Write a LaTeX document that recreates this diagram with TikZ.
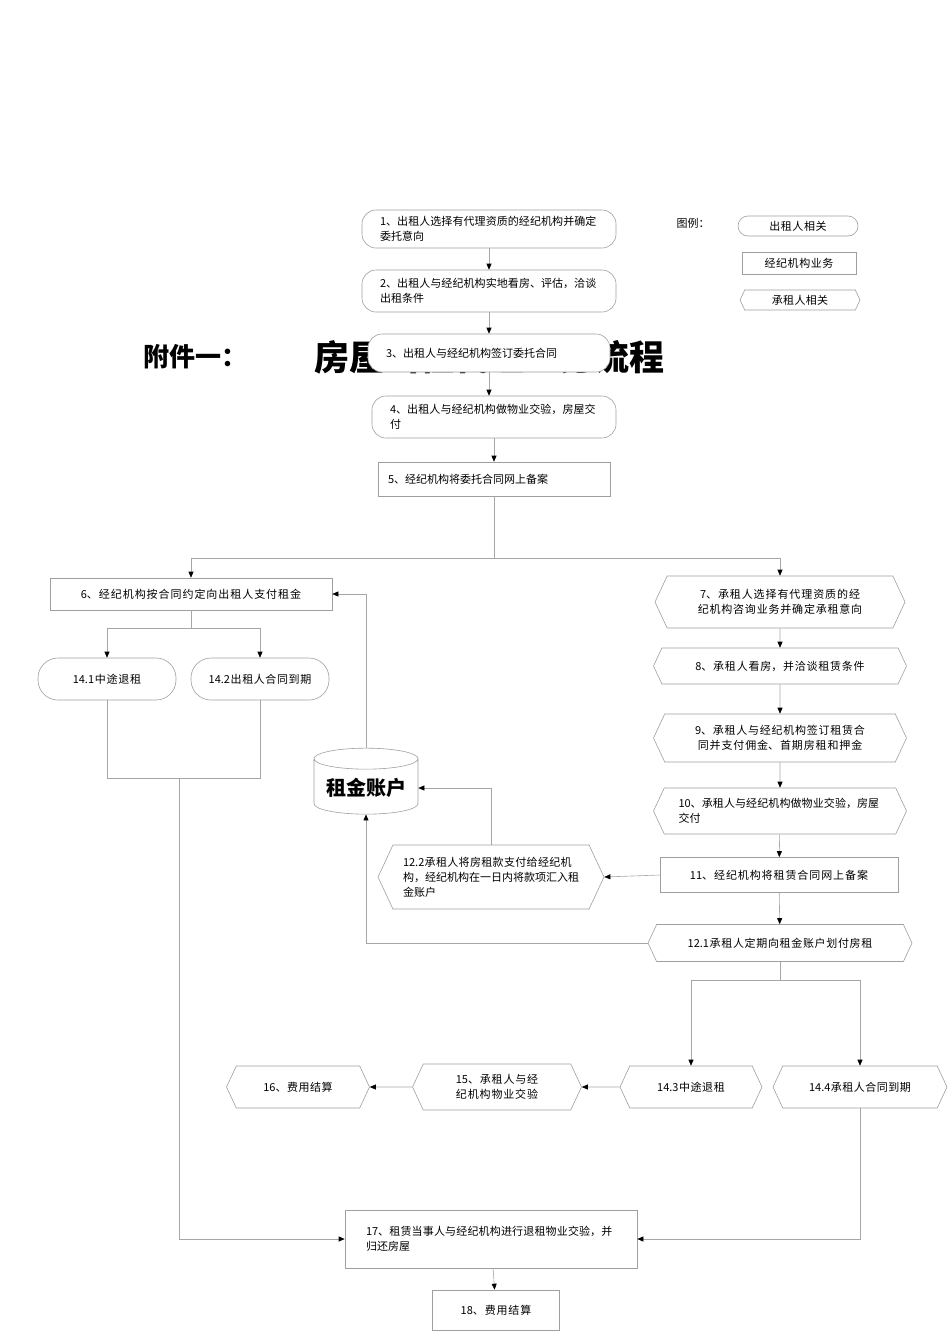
\documentclass[tikz,border=0pt]{standalone}
\usepackage{fontspec}
\setmainfont{Noto Sans CJK SC}
\XeTeXlinebreaklocale "zh"
\XeTeXlinebreakskip=0pt plus 1pt
\usetikzlibrary{shapes.geometric,shapes.symbols,arrows.meta}
\begin{document}
\begin{tikzpicture}[x=1pt,y=-1pt,
  every node/.style={font=\fontsize{11}{15}\selectfont},
  base/.style={draw=gray!75,fill=white,inner sep=2pt,line width=0.6pt},
  lessor/.style={base,rectangle,rounded corners=14pt,minimum width=#1,text width=#1-36pt,align=left},
  agency/.style={base,rectangle,minimum width=#1,text width=#1-20pt,align=left},
  tenant/.style={base,signal,signal to=west and east,signal pointer angle=130,minimum width=#1,text width=#1-50pt,align=center},
  ln/.style={draw=gray!70,line width=0.6pt},
  arr/.style={ln,-{Triangle[length=6pt,width=5pt,fill=black,color=black]}}]
\useasboundingbox (0,0) rectangle (950,1344);
% title
\node[font=\fontsize{26}{30}\selectfont\bfseries] (ta) at (195,357) {附件一：};
\node[font=\fontsize{35}{38}\selectfont\bfseries] (tb) at (489,357) {房屋出租代理业务流程};
% lessor column
\node[lessor=254pt,minimum height=38pt] (n1) at (489,229) {1、出租人选择有代理资质的经纪机构并确定委托意向};
\node[lessor=254pt,minimum height=42pt] (n2) at (489,291) {2、出租人与经纪机构实地看房、评估，洽谈出租条件};
\node[lessor=242pt,minimum height=38pt] (n3) at (489,353) {3、出租人与经纪机构签订委托合同};
\node[lessor=244pt,minimum height=42pt] (n4) at (494,417) {4、出租人与经纪机构做物业交验，房屋交付};
\node[agency=232pt,minimum height=34pt] (n5) at (494,479) {5、经纪机构将委托合同网上备案};
% legend
\node (lg) at (693,223) {图例：};
\node[lessor=120pt,minimum height=20pt,rounded corners=10pt,align=center] (l1) at (798,226) {出租人相关};
\node[agency=114pt,minimum height=22pt,align=center] (l2) at (799,263) {经纪机构业务};
\node[tenant=120pt,minimum height=20pt] (l3) at (800,300) {承租人相关};
% left
\node[agency=282pt,minimum height=32pt,align=center] (n6) at (191,594) {6、经纪机构按合同约定向出租人支付租金};
\node[lessor=138pt,minimum height=42pt,rounded corners=20pt,align=center] (n141) at (107,679) {14.1中途退租};
\node[lessor=138pt,minimum height=42pt,rounded corners=20pt,align=center,text width=130pt] (n142) at (260,679) {14.2出租人合同到期};
\node[base,cylinder,shape border rotate=90,aspect=0.25,minimum width=104pt,minimum height=66pt,font=\fontsize{20}{24}\selectfont\bfseries] (acc) at (366,788) {租金账户};
% right
\node[tenant=250pt,minimum height=52pt] (n7) at (780,602) {7、承租人选择有代理资质的经纪机构咨询业务并确定承租意向};
\node[tenant=253pt,minimum height=36pt] (n8) at (780,666) {8、承租人看房，并洽谈租赁条件};
\node[tenant=253pt,minimum height=48pt] (n9) at (780,738) {9、承租人与经纪机构签订租赁合同并支付佣金、首期房租和押金};
\node[tenant=253pt,minimum height=46pt,align=left] (n10) at (780,811) {10、承租人与经纪机构做物业交验，房屋交付};
\node[agency=238pt,minimum height=35pt,align=center] (n11) at (779,875) {11、经纪机构将租赁合同网上备案};
\node[tenant=264pt,minimum height=37pt] (n121) at (780,943) {12.1承租人定期向租金账户划付房租};
\node[tenant=226pt,minimum height=64pt,align=left] (n122) at (491,877) {12.2承租人将房租款支付给经纪机构，经纪机构在一日内将款项汇入租金账户};
\node[tenant=142pt,minimum height=42pt] (n143) at (691,1087) {14.3中途退租};
\node[tenant=174pt,minimum height=42pt] (n144) at (860,1087) {14.4承租人合同到期};
\node[tenant=169pt,minimum height=46pt] (n15) at (497,1087) {15、承租人与经纪机构物业交验};
\node[tenant=143pt,minimum height=42pt] (n16) at (298,1087) {16、费用结算};
\node[agency=292pt,minimum height=58pt,text width=250pt] (n17) at (491,1239) {17、租赁当事人与经纪机构进行退租物业交验，并归还房屋};
\node[agency=127pt,minimum height=40pt,align=center] (n18) at (496,1310) {18、费用结算};
% connectors
\draw[arr] (n1) -- (n2);
\draw[arr] (n2) -- (n3);
\draw[arr] (n3) -- (n4.north -| n3);
\draw[arr] (n4.south -| n5) -- (n5);
\coordinate (j5) at (494,558);
\draw[ln] (n5) -- (j5);
\draw[arr] (j5) -| (n6.north);
\draw[arr] (j5) -| (n7.north);
\coordinate (j6) at (191,628);
\draw[ln] (n6) -- (j6);
\draw[arr] (j6) -| (n141.north);
\draw[arr] (j6) -| (n142.north);
\coordinate (j14) at (179,778);
\draw[ln] (n141.south) |- (j14) -| (n142.south);
\draw[arr] (j14) |- (n17.west);
\draw[arr] (acc.north) |- (n6.east);
\draw[arr] (n7) -- (n8);
\draw[arr] (n8) -- (n9);
\draw[arr] (n9) -- (n10);
\draw[arr] (n10) -- (n11);
\draw[arr] (n11) -- (n121);
\draw[arr] (n11.west) -- (n122.east);
\draw[arr] (n122.north) |- (acc.east);
\draw[arr] (n121.west) -| (acc.south);
\coordinate (j12) at (780,980);
\draw[ln] (n121) -- (j12);
\draw[arr] (j12) -| (n143.north);
\draw[arr] (j12) -| (n144.north);
\draw[arr] (n143) -- (n15);
\draw[arr] (n15) -- (n16);
\draw[arr] (n144.south) |- (n17.east);
\draw[arr] (n17) -- (n18);
\end{tikzpicture}
\end{document}
